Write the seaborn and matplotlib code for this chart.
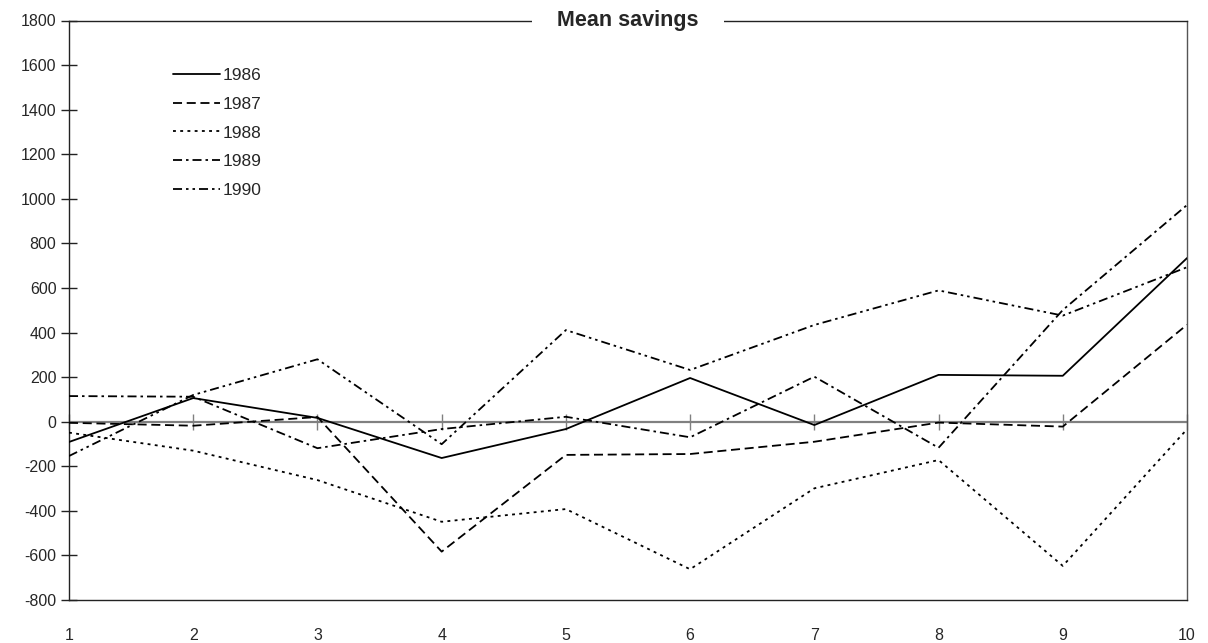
import numpy as np
import pandas as pd
import matplotlib
matplotlib.use("Agg")
import matplotlib.pyplot as plt
import seaborn as sns

# ---- data ----
periods = [1, 2, 3, 4, 5, 6, 7, 8, 9, 10]
years = ["1986", "1987", "1988", "1989", "1990"]
s1986 = [-91, 106, 17, -163, -33, 196, -15, 210, 206, 734]
s1987 = [-5, -18, 21, -583, -149, -145, -90, -4, -22, 435]
s1988 = [-49, -130, -262, -449, -392, -662, -299, -172, -647, -34]
s1989 = [115, 112, -119, -33, 22, -70, 202, -117, 501, 972]
s1990 = [-154, 120, 280, -101, 411, 232, 434, 589, 476, 693]
y_ticks = list(range(-800, 1801, 200))
title = "Mean savings"

series = {"1986": s1986, "1987": s1987, "1988": s1988, "1989": s1989, "1990": s1990}
df = pd.DataFrame(
    [(p, y, v) for y in years for p, v in zip(periods, series[y])],
    columns=["period", "year", "value"],
)

sns.set_theme(style="white")
plt.rcParams["font.family"] = ["Liberation Sans", "DejaVu Sans"]
plt.rcParams["axes.unicode_minus"] = False

fig = plt.figure(figsize=(12.08, 6.43), dpi=100)
ax = fig.add_axes([69 / 1208, 1 - 600 / 643, (1187 - 69) / 1208, (600 - 20.5) / 643])

dashes = {
    "1986": "",
    "1987": (5, 2.6),
    "1988": (1.6, 2.4),
    "1989": (5, 2.2, 1.4, 2.2),
    "1990": (5, 2.2, 1.4, 2.2, 1.4, 2.2),
}
palette = {y: "black" for y in years}

ax.axhline(0, color="#808080", lw=1.6, zorder=1)

sns.lineplot(
    data=df, x="period", y="value", hue="year", style="year",
    hue_order=years, style_order=years, palette=palette, dashes=dashes,
    linewidth=1.3, ax=ax, legend="full", zorder=3,
)

ax.set_xlim(1, 10)
ax.set_ylim(-800, 1800)
ax.set_yticks(y_ticks)
ax.set_xticks(periods)
ax.set_xlabel("")
ax.set_ylabel("")

for side in ["left", "bottom", "top", "right"]:
    ax.spines[side].set_visible(True)
    ax.spines[side].set_linewidth(1.0)
ax.spines["left"].set_color("#222222")
ax.spines["bottom"].set_color("#222222")
ax.spines["top"].set_color("#222222")
ax.spines["right"].set_color("#555555")

ax.tick_params(axis="y", direction="inout", length=12, width=1.0, color="#222222",
               labelsize=11.5, pad=3, left=True)
ax.tick_params(axis="x", length=0, labelsize=11.5, pad=20, bottom=True)

# tick marks along the zero line
zero_frac = (0 - (-800)) / (1800 - (-800))
sec = ax.secondary_xaxis(zero_frac)
sec.set_xticks(periods)
sec.tick_params(direction="inout", length=12, width=1.0, color="#808080",
                labelbottom=False, labeltop=False)
sec.spines["bottom"].set_visible(False)
sec.spines["top"].set_visible(False)
sec.set_xticklabels([])

ax.text(0.5, 1.0, title, transform=ax.transAxes, ha="center", va="center",
        fontsize=15.5, fontweight="bold",
        bbox=dict(facecolor="white", edgecolor="none", pad=18.0), zorder=10)

handles, labels = ax.get_legend_handles_labels()
ax.legend(handles, labels, frameon=False, loc="upper left",
          bbox_to_anchor=(0.0865, 0.93), fontsize=12.5, handlelength=2.75,
          handletextpad=0.1, labelspacing=0.78, borderaxespad=0)

fig.savefig("out.png", dpi=100, facecolor="white")
